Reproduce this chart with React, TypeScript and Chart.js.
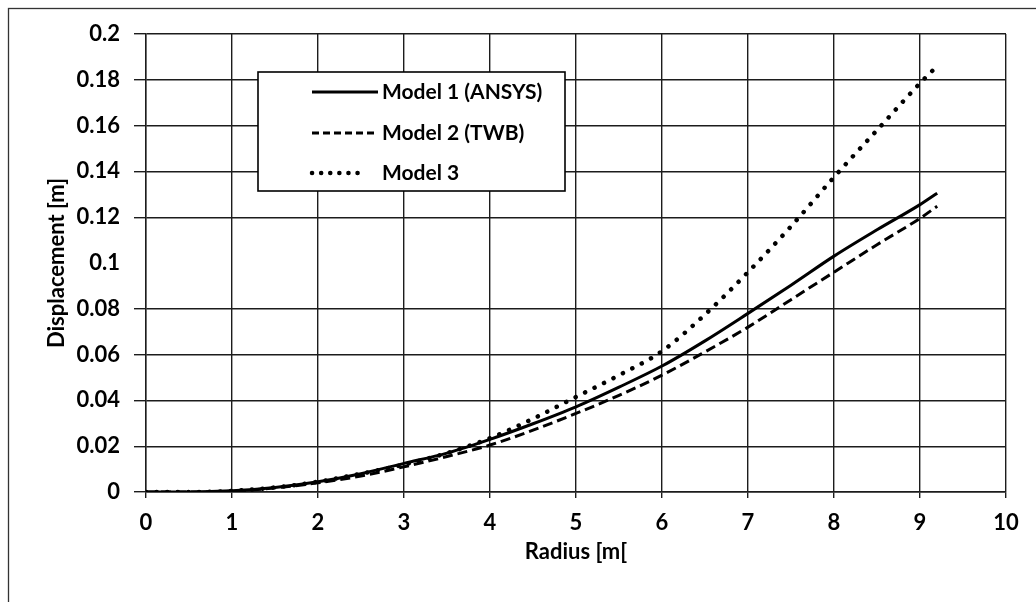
import React, { useEffect, useRef } from "react";
import { Chart, registerables } from "chart.js";

Chart.register(...registerables);

// Radial positions [m] and computed displacements [m] for each model
const RADIUS = [0, 0.5, 1, 1.5, 2, 2.5, 3, 3.5, 4, 4.5, 5, 5.5, 6, 6.5, 7, 7.5, 8, 8.5, 9, 9.2];
const MODEL1_ANSYS = [0, 0, 0.0005, 0.002, 0.0045, 0.008, 0.0125, 0.017, 0.023, 0.0298, 0.0372, 0.0458, 0.055, 0.066, 0.078, 0.0903, 0.103, 0.1145, 0.1255, 0.1305];
const MODEL2_TWB = [0, 0, 0.0003, 0.0018, 0.004, 0.007, 0.011, 0.0155, 0.0205, 0.027, 0.0343, 0.0422, 0.051, 0.0612, 0.072, 0.084, 0.096, 0.108, 0.1195, 0.1248];
const MODEL3 = [0, 0, 0.0005, 0.002, 0.0045, 0.008, 0.012, 0.017, 0.0235, 0.032, 0.0415, 0.051, 0.0615, 0.0775, 0.096, 0.116, 0.1375, 0.158, 0.1785, 0.186];

const SERIES_LABELS = ["Model 1 (ANSYS)", "Model 2 (TWB)", "Model 3"];
const X_TICKS = [0, 1, 2, 3, 4, 5, 6, 7, 8, 9, 10];
const Y_TICKS = [0, 0.02, 0.04, 0.06, 0.08, 0.1, 0.12, 0.14, 0.16, 0.18, 0.2];
// the 0.1 row carries no rule line on this sheet
const Y_UNRULED = [0.1];

const X_TITLE = "Radius [m[";
const Y_TITLE = "Displacement [m]";

const FONT = "Lato";
const INK = "#000";
const GRID = "#1c1c1c";

const toPoints = (ys: number[]) => RADIUS.map((x, i) => ({ x, y: ys[i] }));

// Outer frame of the sheet (top and left edges visible)
const framePlugin = {
  id: "sheetFrame",
  beforeDraw(chart: any) {
    const { ctx, width, height } = chart;
    ctx.save();
    ctx.fillStyle = "#fff";
    ctx.fillRect(0, 0, width, height);
    ctx.strokeStyle = "#333";
    ctx.lineWidth = 1.3;
    ctx.strokeRect(8.5, 8.5, width + 40, height + 40);
    ctx.restore();
  },
};

// Boxed legend drawn inside the plot area
const boxedLegendPlugin = {
  id: "boxedLegend",
  afterDraw(chart: any) {
    const { ctx, chartArea } = chart;
    const bx = chartArea.left + 112;
    const by = chartArea.top + 38;
    const bw = 307;
    const bh = 119;
    ctx.save();
    ctx.fillStyle = "#fff";
    ctx.fillRect(bx, by, bw, bh);
    ctx.strokeStyle = INK;
    ctx.lineWidth = 1.6;
    ctx.strokeRect(bx, by, bw, bh);

    const rowY = [20, 61, 101];
    chart.data.datasets.forEach((ds: any, i: number) => {
      const y = by + rowY[i];
      ctx.beginPath();
      ctx.strokeStyle = ds.borderColor;
      ctx.lineWidth = ds.borderWidth;
      ctx.lineCap = ds.borderCapStyle || "butt";
      ctx.setLineDash(ds.legendDash || ds.borderDash || []);
      ctx.moveTo(bx + 54, y);
      ctx.lineTo(bx + (i === 2 ? 108 : 120), y);
      ctx.stroke();
      ctx.setLineDash([]);
      ctx.fillStyle = INK;
      ctx.font = `bold 21px ${FONT}`;
      ctx.textAlign = "left";
      ctx.textBaseline = "middle";
      ctx.fillText(ds.label, bx + 124, y);
    });
    ctx.restore();
  },
};

export default function App() {
  const canvasRef = useRef<HTMLCanvasElement>(null);

  useEffect(() => {
    const canvas = canvasRef.current;
    if (!canvas) return;

    const chart = new Chart(canvas, {
      type: "line",
      data: {
        datasets: [
          {
            label: SERIES_LABELS[0],
            data: toPoints(MODEL1_ANSYS),
            borderColor: INK,
            borderWidth: 3,
            pointRadius: 0,
            cubicInterpolationMode: "monotone",
            fill: false,
          },
          {
            label: SERIES_LABELS[1],
            data: toPoints(MODEL2_TWB),
            borderColor: INK,
            borderWidth: 3,
            borderDash: [10, 5],
            legendDash: [7, 4],
            pointRadius: 0,
            cubicInterpolationMode: "monotone",
            fill: false,
          } as any,
          {
            label: SERIES_LABELS[2],
            data: toPoints(MODEL3),
            borderColor: INK,
            borderWidth: 4.5,
            borderDash: [0.1, 10.5],
            legendDash: [0.1, 9],
            borderCapStyle: "round",
            pointRadius: 0,
            cubicInterpolationMode: "monotone",
            fill: false,
          } as any,
        ],
      },
      options: {
        animation: false,
        responsive: true,
        maintainAspectRatio: false,
        layout: { padding: { left: 0, top: 34, right: 30, bottom: 0 } },
        plugins: {
          legend: { display: false },
          tooltip: { enabled: false },
        },
        scales: {
          x: {
            type: "linear",
            min: 0,
            max: 10,
            afterBuildTicks: (scale: any) => {
              scale.ticks = X_TICKS.map((value) => ({ value }));
            },
            afterFit: (scale: any) => {
              scale.height = 110;
            },
            ticks: {
              color: INK,
              font: { family: FONT, weight: "bold", size: 22 },
              padding: 12,
              maxRotation: 0,
              callback: (v: any) => String(v),
            },
            grid: { color: GRID, lineWidth: 1.4, tickLength: 6 },
            border: { color: GRID, width: 1.4 },
            title: {
              display: true,
              text: X_TITLE,
              color: INK,
              font: { family: FONT, weight: "bold", size: 22 },
              padding: { top: 0, bottom: 37 },
            },
          },
          y: {
            type: "linear",
            min: 0,
            max: 0.2,
            afterBuildTicks: (scale: any) => {
              scale.ticks = Y_TICKS.map((value) => ({ value }));
            },
            afterFit: (scale: any) => {
              scale.width = 146;
            },
            ticks: {
              color: INK,
              font: { family: FONT, weight: "bold", size: 22 },
              padding: 14,
              callback: (v: any) => String(+Number(v).toFixed(2)),
            },
            grid: {
              color: (c: any) =>
                c.tick && Y_UNRULED.some((u) => Math.abs(c.tick.value - u) < 1e-9)
                  ? "rgba(0,0,0,0)"
                  : GRID,
              lineWidth: 1.4,
              tickLength: 12,
            },
            border: { color: GRID, width: 1.4 },
            title: {
              display: true,
              text: Y_TITLE,
              color: INK,
              font: { family: FONT, weight: "bold", size: 22 },
              padding: { top: 44, bottom: 0 },
            },
          },
        },
      },
      plugins: [framePlugin, boxedLegendPlugin],
    });

    return () => chart.destroy();
  }, []);

  return (
    <div
      style={{
        position: "fixed",
        left: 0,
        top: 0,
        width: 1036,
        height: 602,
        background: "#fff",
      }}
    >
      <canvas ref={canvasRef} />
    </div>
  );
}
